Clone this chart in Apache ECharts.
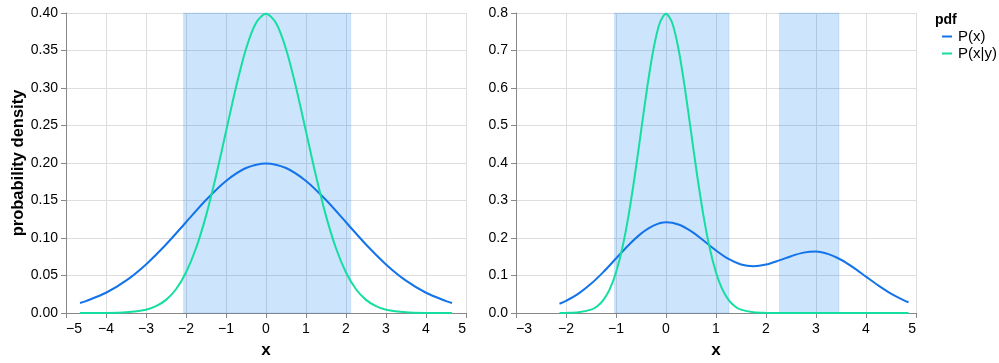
<!DOCTYPE html>
<html>
<head>
<meta charset="utf-8">
<script src="https://cdn.jsdelivr.net/npm/echarts@6/dist/echarts.min.js"></script>
<style>
  html, body { margin: 0; padding: 0; background: #fff; }
  #chart { width: 999px; height: 363px; }
</style>
</head>
<body>
<div id="chart"></div>
<script>
// Left panel: prior P(x) and posterior P(x|y)
const leftPxX = [-4.65, -4.5, -4, -3.5, -3, -2.5, -2, -1.5, -1, -0.5, 0, 0.5, 1, 1.5, 2, 2.5, 3, 3.5, 4, 4.5, 4.65];
const leftPxY = [0.0134, 0.0159, 0.0270, 0.0431, 0.0648, 0.0913, 0.1210, 0.1506, 0.1760, 0.1933, 0.1995,
                 0.1933, 0.1760, 0.1506, 0.1210, 0.0913, 0.0648, 0.0431, 0.0270, 0.0159, 0.0134];

const leftPxyX = [-4.65, -4, -3.5, -3, -2.75, -2.5, -2.25, -2, -1.75, -1.5, -1.25, -1, -0.75, -0.5, -0.25, 0,
                  0.25, 0.5, 0.75, 1, 1.25, 1.5, 1.75, 2, 2.25, 2.5, 2.75, 3, 3.5, 4, 4.65];
const leftPxyY = [0.0000, 0.0001, 0.0009, 0.0044, 0.0091, 0.0175, 0.0317, 0.0540, 0.0863, 0.1295, 0.1826, 0.2420, 0.3011, 0.3521, 0.3867, 0.3989,
                  0.3867, 0.3521, 0.3011, 0.2420, 0.1826, 0.1295, 0.0863, 0.0540, 0.0317, 0.0175, 0.0091, 0.0044, 0.0009, 0.0001, 0.0000];

// Right panel: bimodal P(x) and narrow P(x|y)
const rightPxX = [-2.13, -2, -1.75, -1.5, -1.25, -1, -0.75, -0.5, -0.25, 0, 0.25, 0.5, 0.75, 1, 1.25, 1.5, 1.75,
                  2, 2.25, 2.5, 2.75, 3, 3.25, 3.5, 3.75, 4, 4.25, 4.5, 4.75, 4.85];
const rightPxY = [0.0248, 0.0324, 0.0518, 0.0777, 0.1096, 0.1453, 0.1808, 0.2116, 0.2330, 0.2420, 0.2360, 0.2183, 0.1934, 0.1668, 0.1441, 0.1295, 0.1249,
                  0.1292, 0.1396, 0.1515, 0.1610, 0.1640, 0.1570, 0.1420, 0.1210, 0.0969, 0.0731, 0.0518, 0.0345, 0.0288];

const rightPxyX = [-2.13, -2, -1.75, -1.5, -1.375, -1.25, -1.125, -1, -0.875, -0.75, -0.625, -0.5, -0.375, -0.25, -0.125, 0,
                   0.125, 0.25, 0.375, 0.5, 0.625, 0.75, 0.875, 1, 1.125, 1.25, 1.375, 1.5, 1.75, 2, 2.5, 3, 3.5, 4, 4.5, 4.85];
const rightPxyY = [0.0001, 0.0003, 0.0017, 0.0089, 0.0182, 0.0350, 0.0635, 0.1080, 0.1726, 0.2591, 0.3653, 0.4839, 0.6023, 0.7041, 0.7733, 0.7979,
                   0.7733, 0.7041, 0.6023, 0.4839, 0.3653, 0.2591, 0.1726, 0.1080, 0.0635, 0.0350, 0.0182, 0.0089, 0.0017, 0.0003, 0, 0, 0, 0, 0, 0];

// shaded intervals [from, to]
const leftBands = [[-2.06, 2.12]];
const rightBands = [[-1.03, 1.26], [2.27, 3.46]];

const seriesNames = ['P(x)', 'P(x|y)'];
const blue = '#1273eb';
const teal = '#14dea0';
const font = 'Liberation Sans, Arial, Helvetica, sans-serif';

function pairs(xs, ys) {
    return xs.map((x, i) => [x, ys[i]]);
}

function bandArea(bands) {
    return {
        silent: true,
        itemStyle: { color: 'rgba(0, 120, 240, 0.2)', borderColor: 'rgba(0, 110, 230, 0.12)', borderWidth: 1 },
        data: bands.map(b => [{ xAxis: b[0] }, { xAxis: b[1] }])
    };
}

function xAxisCfg(idx, min, max) {
    return {
        type: 'value', gridIndex: idx, min: min, max: max, interval: 1,
        name: 'x', nameLocation: 'middle', nameGap: 29,
        nameTextStyle: { fontFamily: font, fontSize: 17, fontWeight: 'bold', color: '#000' },
        axisLine: { onZero: false, lineStyle: { color: '#888' } },
        axisTick: { show: true, length: 5, lineStyle: { color: '#888' } },
        axisLabel: {
            fontFamily: font, fontSize: 14, color: '#000', margin: 9,
            alignMinLabel: 'left', alignMaxLabel: 'right',
            formatter: v => (v < 0 ? '\u2212' + Math.abs(v) : String(v))
        },
        splitLine: { show: true, lineStyle: { color: '#ddd' } }
    };
}

function yAxisCfg(idx, max, interval, digits, title) {
    return {
        type: 'value', gridIndex: idx, min: 0, max: max, interval: interval,
        name: title, nameLocation: 'middle', nameGap: 39,
        nameTextStyle: { fontFamily: font, fontSize: 16.5, fontWeight: 'bold', color: '#000' },
        axisLine: { show: true, onZero: false, lineStyle: { color: '#888' } },
        axisTick: { show: true, length: 5, lineStyle: { color: '#888' } },
        axisLabel: { fontFamily: font, fontSize: 14, color: '#000', margin: 8, formatter: v => v.toFixed(digits) },
        splitLine: { show: true, lineStyle: { color: '#ddd' } }
    };
}

function lineSeries(name, xIdx, data, color, bands) {
    const s = {
        name: name, type: 'line', xAxisIndex: xIdx, yAxisIndex: xIdx,
        data: data, showSymbol: false, smooth: 0.3, animation: false,
        lineStyle: { color: color, width: 2 }, itemStyle: { color: color }, z: 3
    };
    if (bands) s.markArea = bandArea(bands);
    return s;
}

const chart = echarts.init(document.getElementById('chart'));
chart.setOption({
    animation: false,
    textStyle: { fontFamily: font },
    grid: [
        { left: 66, top: 13, width: 400, height: 300, outerBoundsMode: 'none', containLabel: false },
        { left: 516, top: 13, width: 400, height: 300, outerBoundsMode: 'none', containLabel: false }
    ],
    xAxis: [xAxisCfg(0, -5, 5), xAxisCfg(1, -3, 5)],
    yAxis: [yAxisCfg(0, 0.4, 0.05, 2, 'probability density'), yAxisCfg(1, 0.8, 0.1, 1, '')],
    legend: {
        data: seriesNames, orient: 'vertical', left: 937, top: 24,
        icon: 'rect', itemWidth: 10, itemHeight: 2, itemGap: 2,
        textStyle: { fontFamily: font, fontSize: 15, color: '#000', padding: [0, 0, 0, 1] }
    },
    graphic: [{
        type: 'text', left: 935, top: 13,
        style: { text: 'pdf', font: 'bold 14px ' + font, fill: '#000' }
    }],
    series: [
        lineSeries(seriesNames[0], 0, pairs(leftPxX, leftPxY), blue, leftBands),
        lineSeries(seriesNames[1], 0, pairs(leftPxyX, leftPxyY), teal),
        lineSeries(seriesNames[0], 1, pairs(rightPxX, rightPxY), blue, rightBands),
        lineSeries(seriesNames[1], 1, pairs(rightPxyX, rightPxyY), teal)
    ]
});
</script>
</body>
</html>
